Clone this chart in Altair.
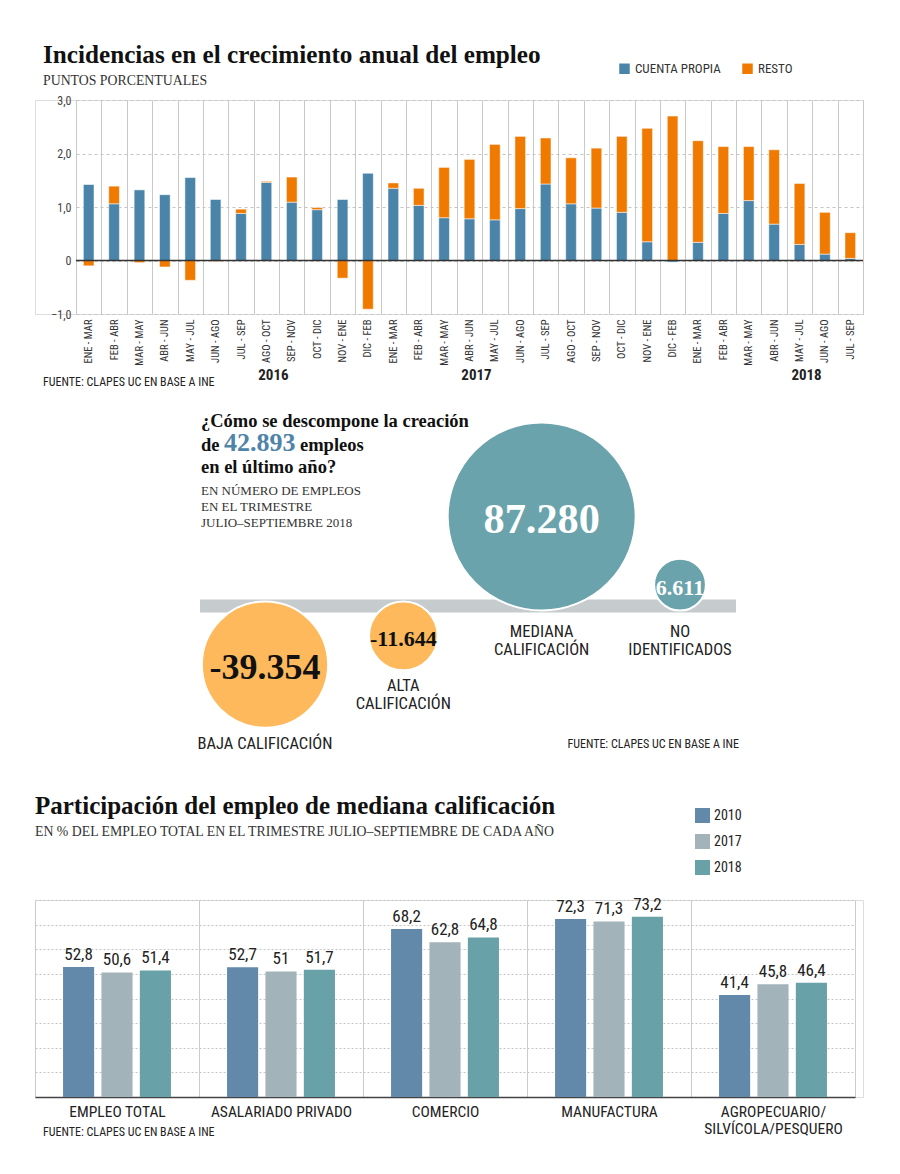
import altair as alt
import pandas as pd
import math

SANS = "'Liberation Sans Narrow', 'Roboto Condensed', Roboto, sans-serif"
SERIF = "'Liberation Serif', 'DejaVu Serif', serif"

# ---------------- Chart 1 data ----------------
periods = ["ENE - MAR", "FEB - ABR", "MAR - MAY", "ABR - JUN", "MAY - JUL", "JUN - AGO",
           "JUL - SEP", "AGO - OCT", "SEP - NOV", "OCT - DIC", "NOV - ENE", "DIC - FEB"]
period_labels = periods + periods + periods[:7]
period_years = [2016] * 12 + [2017] * 12 + [2018] * 7
cuenta_propia = [1.42, 1.06, 1.32, 1.23, 1.55, 1.14, 0.88, 1.46, 1.09, 0.95, 1.14, 1.63,
                 1.35, 1.03, 0.80, 0.78, 0.76, 0.97, 1.43, 1.06, 0.98, 0.90, 0.35, -0.03,
                 0.34, 0.88, 1.12, 0.68, 0.30, 0.12, 0.04]
resto = [-0.10, 0.33, -0.04, -0.12, -0.37, -0.02, 0.08, 0.02, 0.47, 0.04, -0.33, -0.91,
         0.10, 0.32, 0.94, 1.11, 1.41, 1.35, 0.86, 0.86, 1.12, 1.42, 2.12, 2.70,
         1.90, 1.25, 1.01, 1.39, 1.14, 0.78, 0.48]
series_names = ["CUENTA PROPIA", "RESTO"]
y1_ticks = [-1.0, -0.5, 0.0, 0.5, 1.0, 1.5, 2.0, 2.5, 3.0]
year_names = ["2016", "2017", "2018"]
year_anchor = ["AGO - OCT", "ABR - JUN", "MAY - JUL"]

# ---------------- Chart 2 data ----------------
cats2 = ["BAJA", "ALTA", "MEDIANA", "NOID"]
cat2_labels = ["BAJA CALIFICACIÓN", "ALTA\nCALIFICACIÓN", "MEDIANA\nCALIFICACIÓN", "NO\nIDENTIFICADOS"]
vals2 = [-39354, -11644, 87280, 6611]

# ---------------- Chart 3 data ----------------
sectors = ["EMPLEO TOTAL", "ASALARIADO PRIVADO", "COMERCIO", "MANUFACTURA",
           "AGROPECUARIO/|SILVÍCOLA/PESQUERO"]
years3 = ["2010", "2017", "2018"]
v2010 = [52.8, 52.7, 68.2, 72.3, 41.4]
v2017 = [50.6, 51.0, 62.8, 71.3, 45.8]
v2018 = [51.4, 51.7, 64.8, 73.2, 46.4]

BLUE = "#4a84a8"
ORANGE = "#f07a00"
W = 828          # every panel spans the full content width
PX0 = 41         # left edge of the top plot inside its panel


def text_layer(t, x, y, **kw):
    return alt.Chart(pd.DataFrame({"t": [t]})).mark_text(**kw).encode(
        x=alt.value(x), y=alt.value(y), text="t:N")


# ================= Chart 1 =================
keys = [f"{p}|{y}" for p, y in zip(period_labels, period_years)]
rows1 = []
for k, a, b in zip(keys, cuenta_propia, resto):
    rows1.append({"key": k, "serie": series_names[0], "value": a, "ord": 0})
    rows1.append({"key": k, "serie": series_names[1], "value": b, "ord": 1})
df1 = pd.DataFrame(rows1)

H1 = 214
xenc1 = alt.X("key:N", sort=keys,
              scale=alt.Scale(range=[PX0, W], paddingInner=0, paddingOuter=0),
              axis=alt.Axis(title=None, labelExpr="split(datum.label, '|')[0]",
                            labelAngle=270, grid=True, tickBand="extent", ticks=False,
                            domain=False, gridColor="#c9c9c9", gridWidth=1,
                            labelFont=SANS, labelFontSize=10.5, labelColor="#333",
                            labelPadding=5))

bars1 = alt.Chart(df1).mark_bar(width=alt.RelativeBandSize(0.42), stroke="white",
                                strokeOpacity=0.5, strokeWidth=1).encode(
    x=xenc1,
    y=alt.Y("value:Q", stack="zero",
            scale=alt.Scale(domain=[-1, 3], nice=False),
            axis=alt.Axis(title=None, values=y1_ticks, gridDash=[3, 3], gridColor="#c4c4c4",
                          domain=False, ticks=False, labelFont=SANS, labelFontSize=12,
                          labelColor="#444", labelPadding=5, labelOverlap=False,
                          offset=-PX0,
                          labelExpr="datum.value == 0 ? '0' : replace(format(datum.value, '.1f'), '.', ',')")),
    color=alt.Color("serie:N", scale=alt.Scale(domain=series_names, range=[BLUE, ORANGE]),
                    legend=alt.Legend(orient="none", legendX=583, legendY=-38,
                                      direction="horizontal", title=None, symbolType="square",
                                      symbolSize=110, symbolStrokeWidth=0, labelFont=SANS,
                                      labelFontSize=13, labelColor="#333", columnPadding=20)),
    order=alt.Order("ord:Q"),
)

zero1 = alt.Chart(pd.DataFrame({"z": [0]})).mark_rule(color="#333", strokeWidth=1.5).encode(
    y=alt.Y("z:Q"), x=alt.value(PX0), x2=alt.value(W))

df_years = pd.DataFrame({"key": [f"{a}|{y}" for a, y in zip(year_anchor, year_names)],
                         "year": year_names})
years_txt = alt.Chart(df_years).mark_text(font=SANS, fontSize=15, fontWeight="bold",
                                          color="#222", dx=7, baseline="middle").encode(
    x=alt.X("key:N", sort=keys), y=alt.value(275), text="year:N")

src1 = text_layer("FUENTE: CLAPES UC EN BASE A INE", 8, 282, font=SANS, fontSize=12,
                  color="#222", align="left", baseline="middle")
title1 = text_layer("Incidencias en el crecimiento anual del empleo", 8, -37, font=SERIF,
                    fontSize=25.2, fontWeight="bold", color="#111", align="left",
                    baseline="alphabetic")
sub1 = text_layer("PUNTOS PORCENTUALES", 8, -15, font=SERIF, fontSize=13.8, color="#333",
                  align="left", baseline="alphabetic")

chart1 = alt.layer(bars1, zero1, years_txt, src1, title1, sub1).properties(width=W, height=H1)

# ================= Chart 2 =================
H2 = 566
Y_TOP = 282.0
Y_BOT = Y_TOP - H2
R_MAX = 94.0
vmax = max(abs(v) for v in vals2)
rows2 = []
for c, lab, v in zip(cats2, cat2_labels, vals2):
    r = R_MAX * math.sqrt(abs(v) / vmax)
    sgn = 1 if v > 0 else -1
    rows2.append({
        "cat": c, "label": lab, "v": v,
        "cy": sgn * (r - 4.5),
        "sz": (2 * r) ** 2,
        "txt": f"{v:,}".replace(",", "."),
        "fs": min(42.3, max(22.0, 0.57 * r)),
        "tc": "#ffffff" if v > 0 else "#111111",
        "fill": "#6aa3ab" if v > 0 else "#fdb95c",
        "ly": -17.5 if v > 0 else -(2 * r - 4.5) - 8,
    })
df2 = pd.DataFrame(rows2)

x2 = alt.X("cat:N", sort=cats2,
           scale=alt.Scale(type="point", domain=cats2, range=[230, 645], padding=0),
           axis=None)
y2scale = alt.Scale(domain=[Y_BOT, Y_TOP], nice=False, zero=False)

bar2 = alt.Chart(pd.DataFrame({"z": [0]})).mark_rule(color="#c6cbce", strokeWidth=13).encode(
    x=alt.value(165), x2=alt.value(701), y=alt.Y("z:Q", scale=y2scale, axis=None))

circles = alt.Chart(df2).mark_circle(opacity=1, stroke="white", strokeWidth=2).encode(
    x=x2, y=alt.Y("cy:Q", scale=y2scale, axis=None),
    size=alt.Size("sz:Q", scale=None, legend=None),
    color=alt.Color("fill:N", scale=None, legend=None))

nums = alt.Chart(df2).mark_text(font=SERIF, fontWeight="bold", baseline="middle", dy=3).encode(
    x=x2, y=alt.Y("cy:Q", scale=y2scale, axis=None), text="txt:N",
    size=alt.Size("fs:Q", scale=None, legend=None),
    color=alt.Color("tc:N", scale=None, legend=None))

labs2 = alt.Chart(df2).mark_text(font=SANS, fontSize=16.5, color="#222", baseline="top",
                                 lineBreak="\n", lineHeight=18).encode(
    x=x2, y=alt.Y("ly:Q", scale=y2scale, axis=None), text="label:N")

total = sum(vals2)
total_txt = f"{total:,}".replace(",", ".")
heads = [
    text_layer("¿Cómo se descompone la creación", 166, 103, font=SERIF, fontWeight="bold",
               fontSize=18.5, color="#111", align="left", baseline="alphabetic"),
    text_layer("de", 166, 127, font=SERIF, fontWeight="bold", fontSize=18.5, color="#111",
               align="left", baseline="alphabetic"),
    text_layer(total_txt, 189, 127, font=SERIF, fontWeight="bold", fontSize=26,
               color="#4f84a9", align="left", baseline="alphabetic"),
    text_layer("empleos", 265, 127, font=SERIF, fontWeight="bold", fontSize=18.5,
               color="#111", align="left", baseline="alphabetic"),
    text_layer("en el último año?", 166, 149, font=SERIF, fontWeight="bold", fontSize=18.5,
               color="#111", align="left", baseline="alphabetic"),
]
sub2 = text_layer("EN NÚMERO DE EMPLEOS\nEN EL TRIMESTRE\nJULIO–SEPTIEMBRE 2018", 166, 171,
                  font=SERIF, fontSize=13, color="#333", align="left", baseline="alphabetic",
                  lineBreak="\n", lineHeight=16)
src2 = text_layer("FUENTE: CLAPES UC EN BASE A INE", 704, 420, font=SANS, fontSize=12,
                  color="#222", align="right", baseline="middle")

chart2 = alt.layer(bar2, circles, nums, labs2, *heads, sub2, src2).properties(
    width=W, height=H2, view=alt.ViewBackground(stroke="transparent", strokeWidth=0))

# ================= Chart 3 =================
rows3 = []
for s, a, b, c in zip(sectors, v2010, v2017, v2018):
    for yr, v in zip(years3, (a, b, c)):
        rows3.append({"sector": s, "year": yr, "v": v, "lab": f"{v:g}".replace(".", ",")})
df3 = pd.DataFrame(rows3)
H3 = 197
x3 = alt.X("sector:N", sort=sectors,
           scale=alt.Scale(range=[0, 820], paddingInner=0, paddingOuter=0),
           axis=alt.Axis(title=None, labelExpr="split(datum.label, '|')", tickBand="extent",
                         grid=True, gridColor="#cccccc", ticks=False, domainColor="#444",
                         domainWidth=1.5, labelFont=SANS, labelFontSize=15.5, labelColor="#222",
                         labelPadding=7, labelLineHeight=17, labelAngle=0))
xo3 = alt.XOffset("year:N", sort=years3, scale=alt.Scale(paddingInner=0.19, paddingOuter=0.73))
y3 = alt.Y("v:Q", scale=alt.Scale(domain=[0, 80], nice=False),
           axis=alt.Axis(title=None, values=list(range(0, 81, 10)), labels=False, ticks=False,
                         domain=False, gridDash=[2, 2], gridColor="#c4c4c4"))
bars3 = alt.Chart(df3).mark_bar().encode(
    x=x3, xOffset=xo3, y=y3,
    color=alt.Color("year:N", scale=alt.Scale(domain=years3, range=["#6389aa", "#a3b3ba", "#69a1a8"]),
                    legend=alt.Legend(orient="none", legendX=660, legendY=-92, direction="vertical",
                                      title=None, symbolType="square", symbolSize=225,
                                      symbolStrokeWidth=0, labelFont=SANS, labelFontSize=14,
                                      labelColor="#222", rowPadding=11)))
labels3 = alt.Chart(df3).mark_text(font=SANS, fontSize=17, color="#222", baseline="bottom", dy=-3).encode(
    x=x3, xOffset=xo3, y=y3, text="lab:N")
src3 = text_layer("FUENTE: CLAPES UC EN BASE A INE", 8, 232, font=SANS, fontSize=12,
                  color="#222", align="left", baseline="middle")
title3 = text_layer("Participación del empleo de mediana calificación", 0, -86, font=SERIF,
                    fontSize=25, fontWeight="bold", color="#111", align="left",
                    baseline="alphabetic")
sub3 = text_layer("EN % DEL EMPLEO TOTAL EN EL TRIMESTRE JULIO–SEPTIEMBRE DE CADA AÑO", 0, -64,
                  font=SERIF, fontSize=13.8, color="#333", align="left", baseline="alphabetic")

chart3 = alt.layer(bars3, labels3, src3, title3, sub3).properties(width=W, height=H3)

chart = alt.vconcat(chart1, chart2, chart3, spacing=10, bounds="flush").resolve_scale(
    x="independent", y="independent", color="independent", size="independent"
).resolve_legend(color="independent").properties(
    padding={"left": 21, "top": 34, "right": 5, "bottom": 5}
).configure_view(stroke="transparent", strokeWidth=0).configure(background="white")

chart.save("out.html", embed_options={"renderer": "svg", "actions": False})
